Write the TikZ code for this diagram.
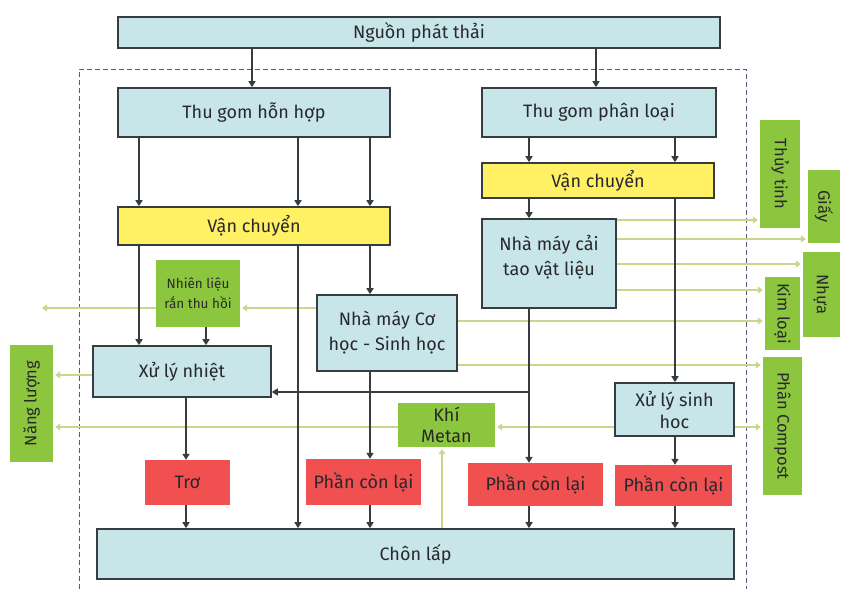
\documentclass[tikz,border=0pt]{standalone}
\usepackage{fontspec}
\setmainfont{Fira Sans}
\usetikzlibrary{arrows.meta}
\definecolor{boxblue}{RGB}{200,229,234}
\definecolor{boxyellow}{RGB}{255,240,100}
\definecolor{boxred}{RGB}{240,80,80}
\definecolor{boxgreen}{RGB}{140,198,63}
\definecolor{lineg}{RGB}{200,215,140}
\definecolor{edge}{RGB}{55,60,65}
\definecolor{txt}{RGB}{40,40,45}
\definecolor{dashc}{RGB}{90,90,120}
\tikzset{
  base/.style={draw=edge, line width=1.6pt, text=txt, inner sep=0pt, align=center, font=\fontsize{18}{25}\selectfont},
  bluebox/.style={base, fill=boxblue},
  yelbox/.style={base, fill=boxyellow},
  redbox/.style={fill=boxred, text=txt, inner sep=0pt, align=center, font=\fontsize{18}{22}\selectfont},
  grnbox/.style={fill=boxgreen, text=txt, inner sep=0pt, align=center, font=\fontsize{16.5}{20}\selectfont},
  arr/.style={draw=edge, line width=1.6pt, -{Triangle[width=7pt,length=6pt]}},
  garr/.style={draw=lineg, line width=2.4pt, shorten >=2pt, -{Triangle[width=7pt,length=5pt]}},
}
\begin{document}
\begin{tikzpicture}[x=1pt,y=-1pt]
\useasboundingbox (0,0) rectangle (842,589);
\fill[white] (0,0) rectangle (842,589);
% dashed boundary
\draw[dashc, line width=0.9pt, dash pattern=on 5pt off 3pt] (79,589) -- (79,69) -- (746,69) -- (746,589);
% columns and rows
\coordinate (xa) at (139,0); \coordinate (xb) at (298,0); \coordinate (xc) at (370,0);
\coordinate (xd) at (252,0); \coordinate (xe) at (596,0); \coordinate (xf) at (529,0);
\coordinate (xg) at (675,0); \coordinate (xh) at (206,0); \coordinate (xi) at (186,0);
\coordinate (xj) at (442,0);
\coordinate (r220) at (0,220); \coordinate (r239) at (0,239); \coordinate (r264) at (0,264);
\coordinate (r290) at (0,290); \coordinate (r308) at (0,308); \coordinate (r321) at (0,321);
\coordinate (r365) at (0,365); \coordinate (r375) at (0,375); \coordinate (r392) at (0,392);
\coordinate (r427) at (0,427);
% nodes
\node[bluebox, minimum width=602pt, minimum height=31pt] (src) at (419,32.5) {Nguồn phát thải};
\node[bluebox, minimum width=272pt, minimum height=49pt] (hh) at (254,112.5) {Thu gom hỗn hợp};
\node[bluebox, minimum width=234pt, minimum height=49pt] (pl) at (599,112.5) {Thu gom phân loại};
\node[yelbox, minimum width=272pt, minimum height=38pt] (vc1) at (254,226) {Vận chuyển};
\node[yelbox, minimum width=232pt, minimum height=35pt] (vc2) at (598,180.5) {Vận chuyển};
\node[bluebox, minimum width=134pt, minimum height=89pt] (ct) at (549,263.5) {};
\node[base, draw=none, fill=none] (cttext) at (549,257) {Nhà máy cải\\tao vật liệu};
\node[bluebox, minimum width=140pt, minimum height=76pt] (ch) at (387,333) {Nhà máy Cơ\\học - Sinh học};
\node[grnbox, minimum width=84pt, minimum height=67pt, font=\fontsize{13.5}{20}\selectfont] (nl) at (198,293.5) {Nhiên liệu\\rắn thu hồi};
\node[bluebox, minimum width=178pt, minimum height=51pt] (xn) at (182,371.5) {Xử lý nhiệt};
\node[grnbox, minimum width=97pt, minimum height=44pt, font=\fontsize{18}{21}\selectfont] (km) at (446.5,425) {Khí\\Metan};
\node[bluebox, minimum width=119pt, minimum height=53pt, font=\fontsize{18}{22}\selectfont] (sh) at (674.5,409.5) {Xử lý sinh\\hoc};
\node[redbox, minimum width=85pt, minimum height=45pt] (tro) at (187.5,482.5) {Trơ};
\node[redbox, minimum width=115pt, minimum height=46pt] (r2) at (363.5,482) {Phần còn lại};
\node[redbox, minimum width=135pt, minimum height=43pt] (r3) at (535.5,484.5) {Phần còn lại};
\node[redbox, minimum width=117pt, minimum height=41pt] (r4) at (673.5,485.5) {Phần còn lại};
\node[bluebox, minimum width=637pt, minimum height=50pt] (cl) at (415.5,554) {Chôn lấp};
\node[grnbox, minimum width=43pt, minimum height=117pt] (nang) at (31.5,403.5) {\rotatebox{90}{Năng lượng}};
\node[grnbox, minimum width=40pt, minimum height=108pt] (tt) at (780,174) {\rotatebox{-90}{Thủy tinh}};
\node[grnbox, minimum width=32pt, minimum height=73pt] (giay) at (824,206.5) {\rotatebox{-90}{Giấy}};
\node[grnbox, minimum width=37pt, minimum height=85pt] (nhua) at (821.5,294.5) {\rotatebox{-90}{Nhựa}};
\node[grnbox, minimum width=35pt, minimum height=73pt] (kl) at (782.5,313.5) {\rotatebox{-90}{Kim loại}};
\node[grnbox, minimum width=39pt, minimum height=138pt] (pc) at (782.5,426) {\rotatebox{-90}{Phân Compost}};
% green connectors
\coordinate (wout) at (40,308);
\draw[garr] (ch.west |- r308) -- (nl.east |- r308);
\draw[garr] (nl.west |- r308) -- (wout);
\draw[garr] (xn.west |- r375) -- (nang.east |- r375);
\draw[garr] (km.west |- r427) -- (nang.east |- r427);
\draw[garr] (sh.west |- r427) -- (km.east |- r427);
\draw[garr] (cl.north -| xj) -- (km.south -| xj);
\draw[garr] (sh.east |- r427) -- (pc.west |- r427);
\draw[garr] (ct.east |- r220) -- (tt.west |- r220);
\draw[garr] (ct.east |- r239) -- (giay.west |- r239);
\draw[garr] (ct.east |- r264) -- (nhua.west |- r264);
\draw[garr] (ct.east |- r290) -- (kl.west |- r290);
\draw[garr] (ch.east |- r321) -- (kl.west |- r321);
\draw[garr] (ch.east |- r365) -- (pc.west |- r365);
% black connectors
\draw[arr] (src.south -| xd) -- (hh.north -| xd);
\draw[arr] (src.south -| xe) -- (pl.north -| xe);
\foreach \c in {xa,xb,xc} \draw[arr] (hh.south -| \c) -- (vc1.north -| \c);
\draw[arr] (vc1.south -| xa) -- (xn.north -| xa);
\draw[arr] (vc1.south -| xb) -- (cl.north -| xb);
\draw[arr] (vc1.south -| xc) -- (ch.north -| xc);
\draw[arr] (nl.south -| xh) -- (xn.north -| xh);
\draw[arr] (pl.south -| xf) -- (vc2.north -| xf);
\draw[arr] (pl.south -| xg) -- (vc2.north -| xg);
\draw[arr] (vc2.south -| xf) -- (ct.north -| xf);
\draw[arr] (vc2.south -| xg) -- (sh.north -| xg);
\draw[arr] (ct.south -| xf) -- (r3.north -| xf);
\draw[arr] (ct.south -| xf) |- (xn.east |- r392);
\draw[arr] (ch.south -| xc) -- (r2.north -| xc);
\draw[arr] (xn.south -| xi) -- (tro.north -| xi);
\draw[arr] (tro.south -| xi) -- (cl.north -| xi);
\draw[arr] (r2.south -| xc) -- (cl.north -| xc);
\draw[arr] (r3.south -| xf) -- (cl.north -| xf);
\draw[arr] (sh.south -| xg) -- (r4.north -| xg);
\draw[arr] (r4.south -| xg) -- (cl.north -| xg);
\end{tikzpicture}
\end{document}
